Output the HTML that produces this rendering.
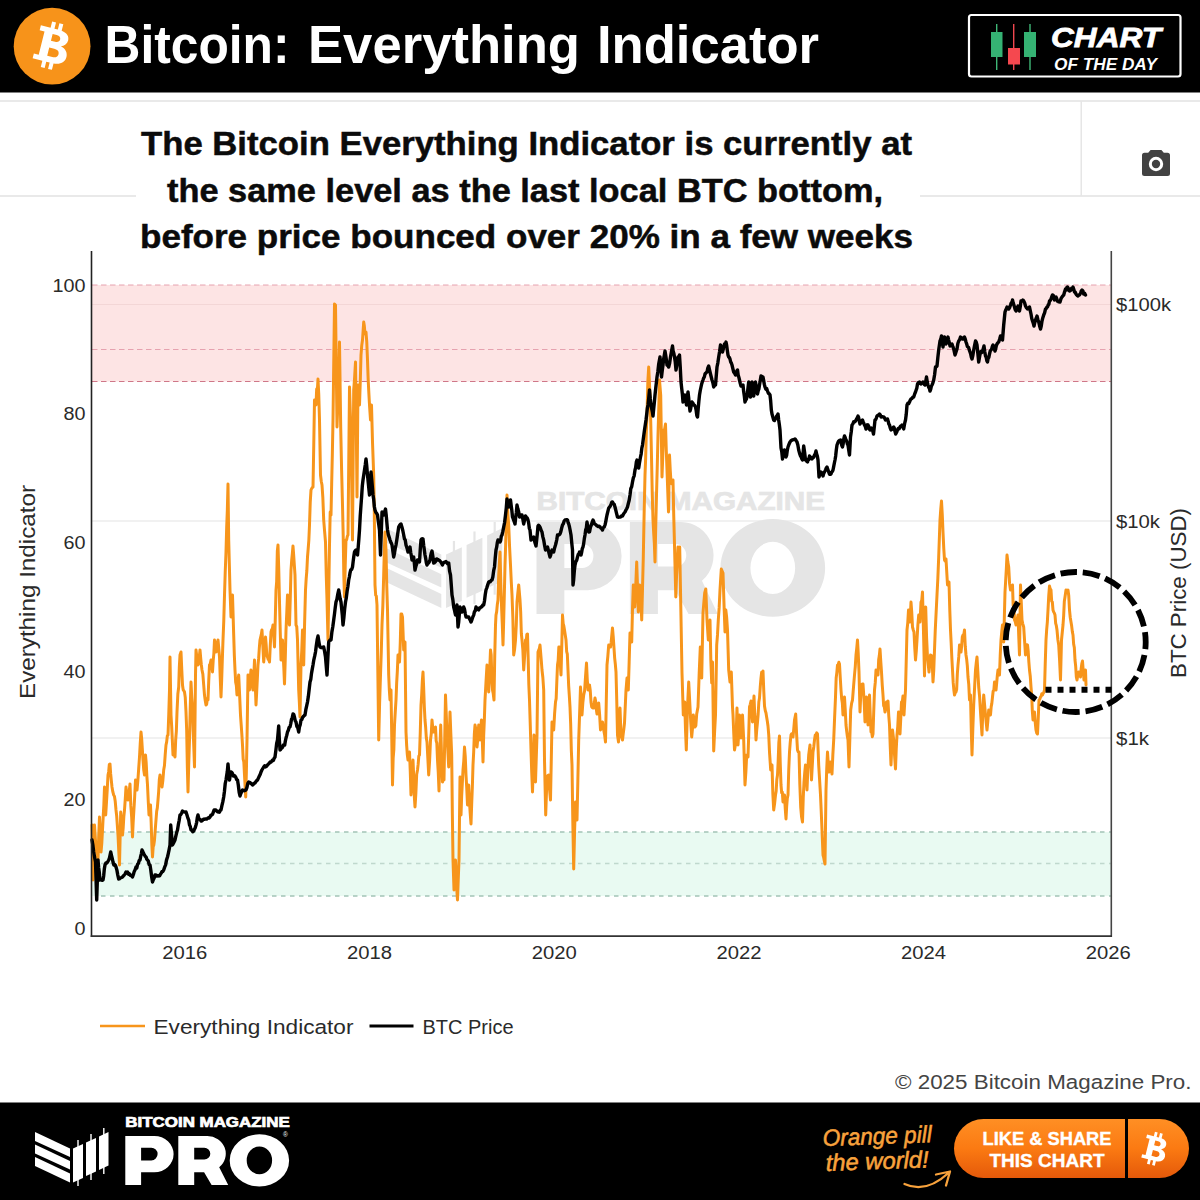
<!DOCTYPE html>
<html><head><meta charset="utf-8">
<style>
html,body{margin:0;padding:0;background:#fff;}
body{width:1200px;height:1200px;overflow:hidden;position:relative;font-family:"Liberation Sans",sans-serif;}
svg{position:absolute;left:0;top:0;}
text{font-family:"Liberation Sans",sans-serif;}
</style></head><body>
<svg width="1200" height="1200" viewBox="0 0 1200 1200">
<defs>
<linearGradient id="btn" x1="0" y1="0" x2="0" y2="1">
<stop offset="0" stop-color="#ff8f24"/><stop offset="0.5" stop-color="#fb7a12"/><stop offset="1" stop-color="#e4590a"/>
</linearGradient>
</defs>
<rect x="0" y="0" width="1200" height="1200" fill="#ffffff"/>

<!-- page divider lines -->
<rect x="0" y="100" width="1200" height="2" fill="#e9e9e9"/>
<rect x="0" y="195" width="1200" height="2" fill="#e9e9e9"/>
<rect x="1080.5" y="101" width="1.5" height="95" fill="#e6e6e6"/>
<rect x="136" y="108" width="784" height="150" fill="#ffffff"/>

<!-- camera icon -->
<g fill="#424242">
<path d="M1144.5,152.7 H1148.2 L1150.6,150 H1161.4 L1163.8,152.7 H1167.5 Q1170,152.7 1170,155.2 V173.5 Q1170,176 1167.5,176 H1144.5 Q1142,176 1142,173.5 V155.2 Q1142,152.7 1144.5,152.7 Z"/>
<circle cx="1156" cy="164" r="7.2" fill="#ffffff"/>
<circle cx="1156" cy="164" r="4.2"/>
</g>

<!-- chart zones -->
<rect x="92" y="285" width="1019" height="96.5" fill="#fde4e4"/>
<rect x="92" y="832" width="1019" height="64" fill="#e9faf2"/>
<!-- grid lines (right axis) -->
<g stroke="#e4e4e4" stroke-width="1.2">
<line x1="92" y1="304.5" x2="1111" y2="304.5" stroke="#f3d6d6"/>
<line x1="92" y1="521" x2="1111" y2="521"/>
<line x1="92" y1="738" x2="1111" y2="738"/>
</g>
<g stroke="#e39aa8" stroke-width="0.9" stroke-dasharray="5.5 3.5" fill="none">
<line x1="92" y1="285" x2="1111" y2="285"/>
<line x1="92" y1="349.5" x2="1111" y2="349.5"/>
<line x1="92" y1="381.5" x2="1111" y2="381.5" stroke="#c9697c"/>
</g>
<g stroke="#a3c4b6" stroke-width="1.5" stroke-dasharray="4.5 4.5" fill="none">
<line x1="101" y1="832" x2="1111" y2="832"/>
<line x1="101" y1="863.5" x2="1111" y2="863.5" stroke="#bfd8cd"/>
<line x1="101" y1="896" x2="1111" y2="896"/>
</g>

<!-- watermark -->
<g fill="#e5e5e5">
<g transform="translate(386,522) scale(1.58) translate(-35,-1128)">
<polygon points="35,1132 70,1148.5 70,1157 35,1141"/>
<polygon points="35,1144.5 70,1161 70,1169.5 35,1153.5"/>
<polygon points="35,1157 70,1173.5 70,1182.5 35,1166"/>
<polygon points="73,1148.5 83,1144 83,1178 73,1182.5"/>
<rect x="77.3" y="1140" width="1.4" height="46"/>
<polygon points="86,1142.5 96,1138 96,1171.5 86,1176"/>
<rect x="90.3" y="1134" width="1.4" height="46"/>
<polygon points="99,1136.5 108.5,1132 108.5,1165.5 99,1170"/>
<rect x="103.1" y="1128" width="1.4" height="46"/>
</g>
<text x="536.5" y="509.5" font-size="25" font-weight="700" stroke="#e5e5e5" stroke-width="0.7" textLength="288.5" lengthAdjust="spacingAndGlyphs">BITCOIN MAGAZINE</text>
<path transform="translate(536.5,522) scale(1.762,1.874)" d="M0,0 H29 A19.3,18.2 0 0 1 29,36.4 H15.8 V49.1 H0 Z M15.8,11.8 H26 A6.3,6.35 0 0 1 26,24.5 H15.8 Z M53,0 H82 A18.5,17.8 0 0 1 93.9,31.4 L102.9,49.1 H86.3 L78.8,36.4 H68.9 V49.1 H53 Z M68.9,11.8 H79 A6,5.95 0 0 1 79,23.7 H68.9 Z M104.4,24.5 A29.7,26.1 0 1 0 163.8,24.5 A29.7,26.1 0 1 0 104.4,24.5 Z M121.4,24.5 A12.7,13.9 0 1 1 146.8,24.5 A12.7,13.9 0 1 1 121.4,24.5 Z" fill-rule="evenodd"/>
</g>

<!-- data lines -->
<path d="M92,825 L93,880 L93.75,851.6 L94.5,825 L95.25,837.3 L96,847 L96.67,850.9 L97.33,855 L98,860 L98.75,835.2 L99.5,817 L100.25,833.8 L101,852 L101.75,843.8 L102.5,830 L103.17,817.2 L103.83,805 L104.5,787 L105.7,815 L106.47,802.5 L107.23,789.7 L108,775 L108.67,771.7 L109.33,764.5 L110,764 L110.67,773.9 L111.33,780.6 L112,787 L112.85,791.9 L113.7,795 L114.47,796.4 L115.23,801.3 L116,810 L116.67,815.9 L117.33,825.4 L118,835 L118.75,850.9 L119.5,865 L120.7,812 L121.6,823.4 L122.5,835 L123.17,828.1 L123.83,816.6 L124.5,810 L125.25,799.3 L126,787 L126.67,792.1 L127.33,794.3 L128,800 L128.67,798.4 L129.33,790.6 L130,784 L130.83,805.9 L131.67,817.1 L132.5,837 L133.17,822.2 L133.83,811.2 L134.5,800 L135.5,780 L136.25,784.8 L137,790 L137.83,781 L138.67,768.8 L139.5,757 L140.25,743.3 L141,732 L141.67,738.6 L142.33,749.2 L143,760 L143.75,770.1 L144.5,775 L145.5,755 L146.17,762.6 L146.83,775.7 L147.5,785 L148.25,801.3 L149,815 L149.75,807.2 L150.5,805 L151.17,822.5 L151.83,844.3 L152.5,857 L153.17,846.8 L153.83,844.9 L154.5,840 L155.25,829.7 L156,820 L156.67,811.4 L157.33,807.9 L158,800 L158.67,791.5 L159.33,779.4 L160,775 L160.67,780.6 L161.33,784.3 L162,787 L162.85,780.6 L163.7,770 L164.47,765.5 L165.23,754.3 L166,745 L166.67,741.9 L167.33,735.9 L168,735 L168.75,714.7 L169.5,690 L170,657 L171,715 L171.67,726.2 L172.33,740.1 L173,755 L173.67,753.9 L174.33,754.9 L175,757 L175.67,740.1 L176.33,731.5 L177,712 L177.85,694 L178.7,687 L179.35,666.5 L180,655 L181,652 L181.75,669.3 L182.5,685 L183.17,689.8 L183.83,690.7 L184.5,692 L185.25,697.4 L186,712 L186.67,729.8 L187.33,766.6 L188,792 L188.75,763.4 L189.5,740 L190.25,707.1 L191,682 L191.75,697.1 L192.5,707 L193.17,730.9 L193.83,747.6 L194.5,767 L195.5,675 L196,650 L196.67,655.5 L197.33,660.9 L198,665 L198.67,663.4 L199.33,656.3 L200,650 L200.67,657.9 L201.33,664.7 L202,670 L202.85,674.1 L203.7,685 L204.47,694.8 L205.23,700.6 L206,705 L206.67,704.2 L207.33,698.5 L208,700 L208.75,680.4 L209.5,665 L210.25,663.8 L211,660 L211.75,662.4 L212.5,672 L213.17,660.8 L213.83,653.8 L214.5,640 L215.25,643.4 L216,652 L216.67,651.2 L217.33,645.1 L218,640 L218.75,648.2 L219.5,657 L220.25,678.1 L221,697 L221.67,680.3 L222.33,659.4 L223,640 L223.75,621.5 L224.5,595 L225.25,571.2 L226,552 L226.67,527.9 L227.33,510.3 L228,484 L228.7,540 L229.35,565.1 L230,590 L231,617 L231.75,603.8 L232.5,595 L233.7,635 L234.35,655.6 L235,670 L235.67,682.3 L236.33,685.5 L237,695 L237.85,681.7 L238.7,675 L239.6,694.5 L240.5,715 L241.17,724.6 L241.83,734.1 L242.5,745 L243.17,759.2 L243.83,761.9 L244.5,775 L245.7,797 L246.35,772.9 L247,740 L248,675 L248.75,679.8 L249.5,690 L250.25,678.1 L251,670 L251.67,678.2 L252.33,686.1 L253,690 L253.75,677.6 L254.5,660 L255.25,683.7 L256,705 L256.67,692.2 L257.33,678.9 L258,665 L258.67,658.2 L259.33,647.9 L260,640 L260.67,637.2 L261.33,634.4 L262,630 L262.85,646 L263.7,662 L264.6,651.6 L265.5,637 L266.17,645 L266.83,655.2 L267.5,657 L268.17,659.2 L268.83,659.7 L269.5,662 L270.25,645.9 L271,632 L271.67,629.6 L272.33,628.9 L273,625 L273.75,635.1 L274.5,647 L275.25,619.9 L276,590 L276.67,581.5 L277.33,551 L278,545 L278.75,569.5 L279.5,602 L280.25,631.9 L281,660 L281.75,651 L282.5,640 L283.17,655.5 L283.83,667.8 L284.5,684 L285.25,659.3 L286,630 L286.75,613.4 L287.5,595 L288.17,603.4 L288.83,622.2 L289.5,625 L290.25,598.8 L291,570 L291.67,560.5 L292.33,553.7 L293,546 L293.67,555 L294.33,565.2 L295,575 L296,625 L296.75,626.6 L297.5,640 L298.7,690 L299.35,702.1 L300,717 L301,665 L301.75,650.8 L302.5,630 L303.7,665 L304.6,623.4 L305.5,590 L306.17,578.8 L306.83,571 L307.5,557 L308.17,549 L308.83,540.3 L309.5,525 L310.25,502 L311,490 L311.67,488.5 L312.33,487.5 L313,487 L313.75,445.7 L314.5,400 L315.25,404.2 L316,405 L316.67,389 L317.33,390.7 L318,379 L318.75,394.4 L319.5,420 L320.5,475 L321.25,481.3 L322,485 L322.85,497.7 L323.7,520 L324.6,531.4 L325.5,542 L326.25,575.2 L327,600 L328,640 L328.75,592 L329.5,545 L330.2,512 L331,515 L331.67,484 L332.33,454.5 L333,420 L333.75,362.5 L334.5,304 L335.5,305 L336.25,365.7 L337,427 L338,400 L338.75,376.4 L339.5,342 L340.7,427 L341.6,469.7 L342.5,505 L343.17,534.6 L343.83,576 L344.5,597 L345.25,564.5 L346,540 L346.67,539.8 L347.33,536.2 L348,535 L348.75,461.5 L349.5,387 L350.25,411 L351,430 L351.75,485.8 L352.5,540 L353.7,390 L354.6,377.8 L355.5,362 L356.25,424.1 L357,497 L358,385 L358.75,391.3 L359.5,405 L360.25,382.2 L361,355 L361.75,345.4 L362.5,340 L363.7,322 L364.35,326 L365,334 L366,332 L366.75,341.8 L367.5,360 L368.17,379.5 L368.83,392.6 L369.5,405 L370.5,420 L371.5,405 L372.5,442 L373.7,475 L374.3,512 L375,585 L375.67,595.2 L376.33,596.1 L377,605 L377.85,672.5 L378.7,740 L379.6,703.5 L380.5,675 L381.25,652.7 L382,625 L382.85,605.6 L383.7,575 L384.35,550.4 L385,532 L386,550 L386.75,585.5 L387.5,610 L388.7,675 L389.35,690.2 L390,700 L391,690 L391.75,736.9 L392.5,785 L393.17,758.1 L393.83,750 L394.5,725 L395.25,712.2 L396,700 L396.67,682.9 L397.33,671.4 L398,655 L398.75,659.2 L399.5,662 L400.25,643.3 L401,614 L401.75,614 L402.5,617 L403.7,650 L404.35,648 L405,642 L406,732 L406.67,745.6 L407.33,754.8 L408,760 L408.75,755.7 L409.5,752 L410.25,770.9 L411,795 L411.67,786.6 L412.33,772 L413,760 L413.67,776.1 L414.33,796.3 L415,807 L415.83,793.8 L416.67,774.6 L417.5,770 L418.17,764.2 L418.83,756 L419.5,755 L420.25,732.9 L421,705 L421.67,695 L422.33,681.1 L423,672 L423.67,688 L424.33,706.9 L425,720 L425.67,727.5 L426.33,738 L427,742 L427.85,758.3 L428.7,775 L429.6,760.9 L430.5,740 L431.25,733.6 L432,720 L432.85,729.2 L433.7,732 L434.6,728.4 L435.5,727 L436.17,740.8 L436.83,743.1 L437.5,760 L438.25,772.2 L439,791 L439.85,751.1 L440.7,725 L441.6,757.3 L442.5,782 L443.25,779.2 L444,780 L444.75,737.5 L445.5,695 L446.25,714.3 L447,735 L447.85,750.9 L448.7,767 L449.35,737.4 L450,712 L450.85,734.3 L451.7,755 L452.35,813.8 L453,860 L454,890 L454.75,875.1 L455.5,860 L456.17,875.2 L456.83,890.2 L457.5,900 L458.25,879.3 L459,860 L460,777 L461,815 L461.67,795.6 L462.33,783 L463,770 L463.75,761.3 L464.5,747 L465.25,756.3 L466,775 L466.75,788.2 L467.5,805 L468.7,785 L469.47,801.5 L470.23,813.7 L471,824 L471.67,804.4 L472.33,787.5 L473,765 L473.67,752.3 L474.33,734.2 L475,725 L475.67,728.4 L476.33,738.1 L477,747 L477.85,738.3 L478.7,725 L479.35,731.3 L480,740 L480.75,727.8 L481.5,720 L482.25,738.3 L483,762 L483.67,735.9 L484.33,720.3 L485,700 L486,682 L487,665 L487.85,675.2 L488.7,692 L489.6,672.3 L490.5,650 L491.17,655 L491.83,677.8 L492.5,690 L493.25,693.8 L494,700 L494.75,655.7 L495.5,625 L496,615 L496.67,611.6 L497.33,604.4 L498,600 L498.67,576.2 L499.33,564.9 L500,552 L501,590 L501.67,609.4 L502.33,625.1 L503,645 L503.67,621.1 L504.33,594.3 L505,565 L505.67,544 L506.33,519.5 L507,495 L507.85,514 L508.7,525 L509.6,547.3 L510.5,565 L511.25,581.3 L512,595 L512.85,617.7 L513.7,655 L514.6,649.4 L515.5,640 L516.25,625.5 L517,602 L517.85,592.8 L518.7,585 L520,600 L520.67,611.7 L521.33,633.5 L522,640 L522.85,649.8 L523.7,670 L524.6,656.4 L525.5,640 L526.17,642 L526.83,634.5 L527.5,634 L528.17,658.4 L528.83,684.6 L529.5,700 L530.25,724.6 L531,750 L531.75,773 L532.5,792 L533.25,766.7 L534,735 L534.75,755.3 L535.5,782 L536.25,758.2 L537,735 L538,652 L538.67,650.2 L539.33,648.7 L540,645 L540.67,653.2 L541.33,661.1 L542,670 L542.85,677.5 L543.7,690 L544.5,760 L545.7,815 L547,777 L547.85,775.5 L548.7,775 L549.6,789.9 L550.5,800 L551.25,761.4 L552,722 L552.85,724.5 L553.7,730 L554.6,713.6 L555.5,702 L556.17,698.6 L556.83,681.2 L557.5,665 L558.17,660.5 L558.83,647 L559.5,647 L560.25,662.8 L561,675 L561.75,646.7 L562.5,615 L563.17,623.6 L563.83,625.9 L564.5,630 L565.25,634.9 L566,640 L566.67,651.6 L567.33,654.2 L568,670 L568.67,685.8 L569.33,695.8 L570,707 L570.67,723.9 L571.33,750.3 L572,765 L572.85,823.4 L573.7,869 L574.6,830.6 L575.5,802 L576.25,809.5 L577,820 L577.85,781 L578.7,740 L579.6,714.1 L580.5,687 L581.25,699.9 L582,715 L582.85,702.6 L583.7,695 L584.6,690.9 L585.5,677 L586.5,663 L587.25,679.4 L588,690 L588.75,685.6 L589.5,685 L590.25,690.5 L591,702 L591.67,706.8 L592.33,707.6 L593,708 L593.67,708.1 L594.33,702.8 L595,698 L595.67,701.4 L596.33,709.2 L597,714 L597.85,704.3 L598.7,703 L599.6,714.4 L600.5,730 L601.17,727.2 L601.83,725.6 L602.5,722 L603.7,730 L604.6,734.6 L605.5,742 L606.25,703.1 L607,665 L607.85,656.1 L608.7,645 L609.6,646.5 L610.5,647 L611.17,642.2 L611.83,634.8 L612.5,628 L613.25,637.2 L614,648 L614.67,658.1 L615.33,664.1 L616,672 L616.75,700.6 L617.5,735 L618.5,742 L619.25,723 L620,708 L621,735 L621.75,737.5 L622.5,740 L623.17,734.1 L623.83,729 L624.5,723 L625.25,706.5 L626,690 L627,678 L628.3,690 L629.15,662.1 L630,633 L630.85,637.3 L631.7,642 L632.5,609.1 L633.3,585 L634,597.1 L634.7,607 L635.37,595.7 L636.03,578.5 L636.7,562 L637.5,586.3 L638.3,612 L639,599.8 L639.7,585 L640.37,593.5 L641.03,602.2 L641.7,620 L642.5,588.7 L643.3,557 L644.15,512.7 L645,475 L645.67,457.6 L646.33,431.2 L647,415 L647.85,381.7 L648.7,367 L650,395 L650.75,422.3 L651.5,457 L652.25,494.1 L653,520 L653.67,532.7 L654.33,543.2 L655,562 L655.75,525.8 L656.5,495 L657.25,466.8 L658,435 L658.75,409.2 L659.5,380 L660.7,395 L662,477 L662.85,454.1 L663.7,430 L664.6,429.4 L665.5,424 L666.25,449.5 L667,470 L667.75,490.9 L668.5,512 L669.5,455 L670.25,470.2 L671,482 L671.67,483.7 L672.33,482.1 L673,480 L673.75,516.1 L674.5,545 L675.8,597 L676.53,576.5 L677.27,563.1 L678,547 L678.85,548 L679.7,547 L680.8,607 L682,673 L683.3,715 L684,707.9 L684.7,702 L685.5,729.8 L686.3,750 L687.5,707 L688.7,682 L690,707 L690.85,723.8 L691.7,737 L692.5,728.3 L693.3,715 L694.15,720.6 L695,727 L695.85,725.7 L696.7,714 L698,707 L699.2,673 L700.3,647 L701,666.3 L701.7,678 L703,613 L703.85,602.5 L704.7,593 L705.8,589 L707,620 L708.3,640 L709.15,630.2 L710,620 L710.85,660.6 L711.7,683 L712.5,662 L713.7,751 L714.6,731.9 L715.5,715 L716.7,645 L717.5,634.9 L718.3,620 L719.15,607.9 L720,590 L721.3,569 L722.15,571 L723,573 L724.2,610 L725,632 L725.8,610 L726.65,617.2 L727.5,630 L728.7,670 L730,682 L731.3,672 L732.5,707 L733,715 L733.75,733.1 L734.5,750 L735.25,745.7 L736,740 L737,708 L738,745 L738.75,733.4 L739.5,715 L740.25,728.5 L741,738 L741.75,726.6 L742.5,715 L743.7,740 L745,785 L745.85,772.5 L746.7,755 L748,757 L748.75,733.9 L749.5,707 L750.25,704.3 L751,701 L751.75,711.6 L752.5,722 L753.25,708.3 L754,696 L754.67,713.1 L755.33,721.6 L756,740 L756.75,729.5 L757.5,722 L758.17,714 L758.83,702.1 L759.5,698 L760.25,686.9 L761,678 L761.67,672.2 L762.33,672.2 L763,671 L763.75,690.3 L764.5,706 L765.25,710.5 L766,713 L766.67,717.2 L767.33,721.2 L768,726 L768.75,735.1 L769.5,752 L770.7,770 L772,765 L772.85,793.9 L773.7,810 L774.6,803.6 L775.5,795 L776.17,791 L776.83,779.5 L777.5,775 L778.17,761.4 L778.83,742.7 L779.5,736 L780.25,763.2 L781,785 L781.67,792.8 L782.33,792.1 L783,802 L783.75,798.4 L784.5,795 L785.25,808.7 L786,819 L786.67,806.3 L787.33,798.2 L788,795 L788.75,769.8 L789.5,752 L790.25,742.1 L791,735 L791.67,733.7 L792.33,736.4 L793,737 L793.75,729.1 L794.5,720 L795.7,714 L796.6,734.1 L797.5,750 L798.25,752 L799,752 L799.85,784.8 L800.7,807 L801.6,817 L802.5,822 L803.25,797.4 L804,782 L804.75,772.4 L805.5,765 L806.25,774.6 L807,790 L807.85,769 L808.7,755 L810,745 L810.75,762.2 L811.5,780 L812.25,766 L813,752 L813.75,747 L814.5,740 L815.25,735 L816,735 L816.75,732.8 L817.5,734 L818.7,765 L819.6,779.9 L820.5,795 L821.25,811.9 L822,830 L823,855 L823.67,857.4 L824.33,860.9 L825,864 L826,790 L826.75,768.4 L827.5,752 L828.25,763.7 L829,772 L829.75,767.7 L830.5,762 L831.25,767.8 L832,774 L832.85,754.9 L833.7,740 L834.6,717.9 L835.5,697 L836.17,678 L836.83,672.6 L837.5,665 L838.17,664.7 L838.83,662.3 L839.5,664 L840.25,677.5 L841,690 L841.67,698.7 L842.33,703 L843,715 L843.75,705.4 L844.5,697 L845.25,710.1 L846,725 L846.67,731 L847.33,736.3 L848,740 L849,767 L849.85,738.4 L850.7,710 L851.6,703.4 L852.5,700 L853.17,691.3 L853.83,683.2 L854.5,675 L855.25,666.8 L856,655 L856.75,648.1 L857.5,640 L858.25,653.8 L859,672 L860,712 L860.75,694.7 L861.5,685 L862.25,684 L863,684 L863.67,694.1 L864.33,705.5 L865,722 L865.75,709.2 L866.5,697 L867.25,709.6 L868,725 L868.75,710.3 L869.5,695 L870.25,715.3 L871,732 L871.67,732.1 L872.33,736.7 L873,734 L873.75,710.9 L874.5,690 L875.25,682.7 L876,670 L876.67,671.9 L877.33,675.1 L878,675 L878.67,659.8 L879.33,655.6 L880,649 L880.75,661.1 L881.5,672 L882.25,685.1 L883,695 L883.67,705.9 L884.33,707.1 L885,712 L885.75,709.4 L886.5,702 L887.25,702.6 L888,701 L888.75,715.5 L889.5,725 L890.25,746.8 L891,765 L891.75,747 L892.5,730 L893.7,740 L894.6,756 L895.5,769 L896.25,748.6 L897,735 L897.75,726.6 L898.5,712 L899.25,720.4 L900,734 L900.75,718.8 L901.5,702 L902.25,702.5 L903,696 L904,715 L904.75,701.9 L905.5,690 L906.25,660.1 L907,630 L907.75,622.8 L908.5,610 L909.25,616.1 L910,622 L911,602 L911.75,612.3 L912.5,627 L913.25,629.9 L914,632 L914.75,647.7 L915.5,660 L916.25,651.7 L917,640 L917.85,625.4 L918.7,615 L920,622 L921,602 L921.75,600.3 L922.5,592 L923.7,640 L924.5,676 L925.7,607 L926.6,637.9 L927.5,657 L928.25,664.5 L929,672 L929.75,664.1 L930.5,655 L931.25,655.4 L932,657 L933,682 L933.75,670.4 L934.5,650 L935.25,630.2 L936,615 L937,595 L937.85,578.3 L938.7,557 L940,520 L940.75,509.4 L941.5,501 L942.25,514.4 L943,532 L943.75,548.1 L944.5,560 L945.25,561.3 L946,559 L946.75,572 L947.5,585 L948.25,582.5 L949,582 L949.75,608.9 L950.5,630 L951.17,643.2 L951.83,657.8 L952.5,670 L953.17,682.4 L953.83,689.7 L954.5,695 L955.25,692.7 L956,692 L956.67,689.4 L957.33,674 L958,665 L958.75,656.9 L959.5,645 L960.25,647.4 L961,652 L961.67,646.2 L962.33,636.7 L963,635 L963.75,635.3 L964.5,630 L965.25,646.2 L966,655 L966.67,659.3 L967.33,665.9 L968,677 L968.75,684.3 L969.5,700 L970.5,695 L971.25,729.1 L972,755 L972.85,728.4 L973.7,705 L974.6,687.3 L975.5,670 L976.25,662.9 L977,657 L977.85,671.6 L978.7,687 L979.6,696.6 L980.5,712 L981.25,723.6 L982,735 L982.85,709.9 L983.7,695 L984.6,704.8 L985.5,715 L986.25,723.2 L987,730 L987.85,721.1 L988.7,710 L989.6,712.1 L990.5,715 L991.17,706.9 L991.83,703.4 L992.5,697 L993.17,691 L993.83,690.4 L994.5,682 L995.25,687.4 L996,690 L996.67,683.1 L997.33,675.5 L998,670 L998.75,671.4 L999.5,675 L1000.25,654.5 L1001,640 L1001.75,631.7 L1002.5,625 L1003.7,642 L1005,592 L1005.67,580.7 L1006.33,569.1 L1007,555 L1007.85,562.1 L1008.7,567 L1009.6,583.9 L1010.5,590 L1011.17,587.2 L1011.83,586.7 L1012.5,585 L1013.17,605.7 L1013.83,602.3 L1014.5,620 L1015.25,621.7 L1016,625 L1016.67,622 L1017.33,618.6 L1018,615 L1018.75,636.4 L1019.5,655 L1020.5,585 L1021.25,601.7 L1022,620 L1022.85,624.1 L1023.7,627 L1024.6,641.2 L1025.5,655 L1026.17,653.1 L1026.83,644.8 L1027.5,645 L1028.17,650.9 L1028.83,661.7 L1029.5,670 L1030.25,676.2 L1031,687 L1031.67,694.7 L1032.33,711 L1033,720 L1033.75,714.9 L1034.5,712 L1035.25,722.5 L1036,730 L1036.75,733.1 L1037.5,734 L1038.25,718 L1039,700 L1039.75,699.3 L1040.5,697 L1041.17,696.2 L1041.83,693.7 L1042.5,695 L1043.17,693.3 L1043.83,692.4 L1044.5,690 L1045.25,663.1 L1046,640 L1046.67,629.7 L1047.33,622.2 L1048,610 L1048.75,595.7 L1049.5,586 L1050.25,589 L1051,590 L1051.67,601.2 L1052.33,602 L1053,610 L1053.67,611.9 L1054.33,613.1 L1055,615 L1055.67,623.3 L1056.33,625.7 L1057,630 L1057.85,639.4 L1058.7,645 L1059.6,660.3 L1060.5,680 L1061.5,640 L1062.25,632.5 L1063,625 L1063.67,615.6 L1064.33,601.3 L1065,597 L1066,590 L1066.67,591.9 L1067.33,591.2 L1068,590 L1068.75,595.8 L1069.5,610 L1070.25,617.5 L1071,622 L1071.67,626.1 L1072.33,631.6 L1073,635 L1073.67,644.3 L1074.33,647.6 L1075,660 L1075.67,666.2 L1076.33,676.9 L1077,680 L1077.85,675 L1078.7,672 L1079.6,672.9 L1080.5,677 L1081.17,668.7 L1081.83,663.6 L1082.5,661 L1083.25,671.3 L1084,680 L1084.75,678.2 L1085.5,670 L1086,685" fill="none" stroke="#f7951b" stroke-width="3" stroke-linejoin="round" stroke-linecap="round"/>
<path d="M92,840 L92.85,845 L93.7,852 L94.6,857.3 L95.5,862 L96.7,900 L98,860 L98.67,867.7 L99.33,872.8 L100,880 L100.75,879.3 L101.5,880 L102.25,880.3 L103,880 L103.67,876 L104.33,868.9 L105,865 L105.92,862.9 L106.85,863 L107.78,861.6 L108.7,860 L109.37,858.4 L110.03,855.4 L110.7,852 L111.47,855.3 L112.23,858.5 L113,862 L113.75,864.9 L114.5,864.3 L115.25,865.2 L116,867 L116.9,870.1 L117.8,875.1 L118.7,879 L119.65,878.6 L120.6,877.8 L121.55,877.5 L122.5,877 L123.38,875.9 L124.25,875 L125.12,874 L126,872 L126.8,872.7 L127.6,872.1 L128.4,874.2 L129.2,873.5 L130,875 L130.83,875.6 L131.67,875.5 L132.5,877 L133.38,874.5 L134.25,871.4 L135.12,869.7 L136,867 L136.8,867.9 L137.6,864.2 L138.4,863.4 L139.2,860.5 L140,860 L140.67,856.4 L141.33,853.8 L142,850 L142.83,851.6 L143.67,853.6 L144.5,855 L145.25,856.3 L146,856.8 L146.75,859.1 L147.5,860 L148.33,861.1 L149.17,864.6 L150,865 L150.83,870.2 L151.67,877 L152.5,882 L153.33,879.7 L154.17,878 L155,875 L155.93,874.9 L156.85,876.1 L157.77,875.7 L158.7,876 L159.53,875.9 L160.37,874.4 L161.2,873.1 L162.03,871.5 L162.87,871.5 L163.7,870 L164.65,867.1 L165.6,864.9 L166.55,859.9 L167.5,857 L168.33,853.4 L169.17,849.4 L170,845 L170.7,825 L171.6,835.3 L172.5,845 L173.33,843.5 L174.17,841.8 L175,840 L175.83,836.2 L176.67,832.6 L177.5,830 L178.33,824.7 L179.17,820.5 L180,815 L180.83,814.6 L181.67,812.9 L182.5,811 L183.38,811.8 L184.25,811.9 L185.12,812.1 L186,812 L186.9,814.8 L187.8,817.9 L188.7,820 L189.47,824.7 L190.23,826.4 L191,830 L191.9,829.9 L192.8,831.8 L193.7,831 L194.47,829.2 L195.23,827.7 L196,825 L196.67,822.3 L197.33,817.5 L198,815 L198.75,818.1 L199.5,819.2 L200.25,819.6 L201,821 L201.8,821 L202.6,820.3 L203.4,819.3 L204.2,819.3 L205,819 L205.83,818.9 L206.67,819 L207.5,818.4 L208.33,817.7 L209.17,818.1 L210,817 L210.83,815.3 L211.67,815.2 L212.5,814.3 L213.33,812.1 L214.17,809.9 L215,810 L215.93,810 L216.85,811.1 L217.77,811.8 L218.7,812 L219.47,812.2 L220.23,810.1 L221,810 L221.9,805.7 L222.8,801.9 L223.7,797 L224.47,791.2 L225.23,783.5 L226,780 L226.67,775.4 L227.33,771.4 L228,764 L228.75,772.9 L229.5,780 L230.25,775.3 L231,772 L231.8,772.5 L232.6,773.7 L233.4,776 L234.2,775.6 L235,776 L235.83,777.4 L236.67,779.6 L237.5,780 L238.33,785.3 L239.17,792.3 L240,796 L240.83,793.5 L241.67,791.7 L242.5,790 L243.38,790.4 L244.25,790.8 L245.12,790.4 L246,790 L246.9,787.6 L247.8,783.4 L248.7,782 L249.65,782.3 L250.6,783.1 L251.55,783.9 L252.5,785 L253.33,784.5 L254.17,783.1 L255,783 L255.83,781.7 L256.67,780.6 L257.5,780 L258.38,778.1 L259.25,776.3 L260.12,774.6 L261,772 L261.9,770 L262.8,768.5 L263.7,767 L264.65,765.7 L265.6,766.9 L266.55,766.3 L267.5,765 L268.38,764.1 L269.25,763.2 L270.12,762 L271,762 L271.8,761.1 L272.6,760.1 L273.4,760.4 L274.2,758.2 L275,757 L275.83,750.6 L276.67,743.4 L277.5,740 L278.7,726 L279.35,739.5 L280,750 L280.67,749.4 L281.33,747.7 L282,748 L282.67,747.1 L283.33,745 L284,745 L284.67,745.1 L285.33,741.1 L286,738 L286.75,735.4 L287.5,732 L288.33,730.2 L289.17,727.3 L290,727 L290.75,723.6 L291.5,719.2 L292.25,717.7 L293,714 L293.75,714.5 L294.5,717.3 L295.25,720.9 L296,722 L296.9,726.6 L297.8,727.8 L298.7,732 L299.47,726.8 L300.23,724.7 L301,720 L301.8,719.6 L302.6,717.4 L303.4,716.5 L304.2,715.5 L305,715 L305.83,709.7 L306.67,705.8 L307.5,702 L308.33,696.6 L309.17,689.3 L310,682 L310.75,679.6 L311.5,673.4 L312.25,669.1 L313,665 L313.83,659.8 L314.67,656.2 L315.5,652 L316.33,645.5 L317.17,639.7 L318,636 L318.67,640.2 L319.33,644.5 L320,647 L320.93,647.5 L321.85,647.7 L322.77,647.1 L323.7,647 L324.6,651.5 L325.5,657 L326.25,666.1 L327,675 L327.85,658 L328.7,642 L329.47,640.7 L330.23,639.7 L331,640 L331.9,631.9 L332.8,626.7 L333.7,620 L334.47,614.1 L335.23,607.6 L336,602 L336.9,599.2 L337.8,594.1 L338.7,590 L339.47,594.5 L340.23,599 L341,602 L341.67,608.8 L342.33,615.3 L343,625 L343.83,618.1 L344.67,608.9 L345.5,602 L346.3,597.9 L347.1,591.3 L347.9,586.5 L348.7,580 L349.35,577 L350,573 L350.83,569.6 L351.67,569.5 L352.5,567 L353.17,561.4 L353.83,556.3 L354.5,552 L355.25,550.7 L356,550 L356.75,553 L357.5,555 L358.17,547.6 L358.83,539.4 L359.5,530 L360.25,515.7 L361,505 L361.67,496 L362.33,485.7 L363,480 L363.75,474.9 L364.5,470 L365.25,465 L366,459 L366.67,465.2 L367.33,473.2 L368,480 L368.75,487.7 L369.5,495 L370.25,484.6 L371,472 L371.67,478.8 L372.33,486.5 L373,495 L373.67,499.3 L374.33,506.5 L375,510 L375.83,512.4 L376.67,513.3 L377.5,515 L378.17,520.2 L378.83,525.1 L379.5,530 L380.5,555 L381.25,533.8 L382,512 L382.85,513.4 L383.7,515 L384.6,511.8 L385.5,509 L386.17,514.7 L386.83,522.4 L387.5,530 L388.33,534.6 L389.17,537.1 L390,540 L390.67,541.7 L391.33,543.2 L392,545 L392.85,551.1 L393.7,557 L394.47,553.3 L395.23,548.5 L396,545 L396.9,539.2 L397.8,533.2 L398.7,527 L399.47,525.5 L400.23,524.5 L401,524 L401.9,526.9 L402.8,530.5 L403.7,535 L404.47,539 L405.23,539.9 L406,545 L406.67,547.1 L407.33,549.2 L408,552 L408.67,549.9 L409.33,548.7 L410,547 L410.67,552.3 L411.33,555.7 L412,560 L412.85,558.4 L413.7,557 L414.35,563 L415,570 L415.83,566.6 L416.67,564 L417.5,560 L418.17,560.4 L418.83,560.7 L419.5,562 L420.25,549.7 L421,540 L421.67,539 L422.33,538.6 L423,539 L423.67,545.3 L424.33,550 L425,555 L425.67,558.2 L426.33,562.8 L427,565 L427.75,563.3 L428.5,563 L429.25,561.8 L430,560 L430.67,555.9 L431.33,552.8 L432,551 L432.85,556.2 L433.7,563 L434.52,562.6 L435.35,561.8 L436.18,559.2 L437,559 L437.75,560.1 L438.5,559.8 L439.25,560.3 L440,561 L440.83,562 L441.67,563.5 L442.5,565 L443.33,562.9 L444.17,562.4 L445,562 L445.93,561.6 L446.85,562.8 L447.77,563.9 L448.7,563 L449.6,571.2 L450.5,575 L451.25,584.7 L452,595 L452.85,599.6 L453.7,607 L454.6,610.7 L455.5,615 L456.25,609.3 L457,605 L458,627 L458.67,622.3 L459.33,614.2 L460,607 L460.67,608.2 L461.33,610.9 L462,612 L462.85,609.8 L463.7,607 L464.47,609.1 L465.23,613.3 L466,617 L466.9,616.9 L467.8,617 L468.7,617 L469.47,618.8 L470.23,620.1 L471,622 L471.9,619.8 L472.8,616.9 L473.7,615 L474.47,611.7 L475.23,610.8 L476,607 L476.9,608.2 L477.8,609.3 L478.7,610 L479.47,608 L480.23,607.9 L481,607 L481.9,606.8 L482.8,604.9 L483.7,605 L484.47,601 L485.23,594.7 L486,590 L486.9,587.6 L487.8,584.6 L488.7,582 L489.52,581.6 L490.35,581.7 L491.18,580.3 L492,580 L492.83,577 L493.67,570.7 L494.5,567 L495.25,557.6 L496,550 L496.67,547.2 L497.33,542.5 L498,540 L498.67,540.4 L499.33,541.9 L500,542 L500.67,540.5 L501.33,536.1 L502,535 L502.85,531.4 L503.7,527 L504.6,522.5 L505.5,515 L506.25,508.1 L507,499 L507.85,502.8 L508.7,507 L509.6,503.1 L510.5,500 L511.17,505.4 L511.83,510.3 L512.5,517 L513.33,519.1 L514.17,521.5 L515,524 L515.67,517.5 L516.33,512.5 L517,505 L517.83,508.8 L518.67,511.8 L519.5,517 L520.33,516.9 L521.17,515 L522,515 L522.85,519.2 L523.7,524 L524.6,519.9 L525.5,516 L526.33,517.1 L527.17,518 L528,520 L528.67,523.1 L529.33,528.3 L530,530 L531,540 L531.9,538.6 L532.8,537.9 L533.7,537 L534.47,540.8 L535.23,543.6 L536,546 L536.67,540.1 L537.33,533.5 L538,526 L538.67,525.2 L539.33,526.2 L540,527 L540.67,528.8 L541.33,530.7 L542,532 L542.85,536.9 L543.7,540 L544.6,545.4 L545.5,550 L546.17,548.9 L546.83,548 L547.5,547 L548.33,550.2 L549.17,553.9 L550,557 L550.67,555.1 L551.33,552.1 L552,550 L552.85,550.5 L553.7,552 L554.6,547.9 L555.5,545 L556.17,542.5 L556.83,539.3 L557.5,535 L558.33,535.2 L559.17,534.8 L560,534 L560.83,531.6 L561.67,528 L562.5,525 L563.33,523.8 L564.17,521 L565,520 L565.83,519.9 L566.67,519.6 L567.5,520 L568.17,522.8 L568.83,524.3 L569.5,527 L570.25,530.9 L571,535 L571.75,542.9 L572.5,550 L573,585 L573.67,579.7 L574.33,570.9 L575,565 L575.83,561.7 L576.67,560.3 L577.5,557 L578.17,554.6 L578.83,554 L579.5,552 L580.25,553.2 L581,555 L581.67,552.3 L582.33,548.4 L583,547 L583.67,543.6 L584.33,538.6 L585,535 L585.67,529.9 L586.33,528.1 L587,522 L587.85,527.5 L588.7,532 L589.6,531.8 L590.5,527 L591.33,525 L592.17,522.1 L593,520 L593.67,521.4 L594.33,523.7 L595,524 L595.83,524.7 L596.67,525.6 L597.5,526 L598.33,526.6 L599.17,526.2 L600,527 L600.83,528.1 L601.67,528.7 L602.5,530 L603.33,527.5 L604.17,527.2 L605,525 L605.67,522.2 L606.33,518.4 L607,515 L607.83,511.7 L608.67,508.2 L609.5,507 L610.25,506.1 L611,504.4 L611.75,502.2 L612.5,502 L613.33,503.6 L614.17,504.3 L615,507 L615.83,510.3 L616.67,513.8 L617.5,517 L618.33,517.2 L619.17,517.1 L620,517 L620.83,516.8 L621.67,515.7 L622.5,516 L623.33,514.4 L624.17,513 L625,512 L625.83,510.2 L626.67,508.8 L627.5,507 L628.33,503.5 L629.17,500.3 L630,495 L630.83,488.5 L631.67,486.7 L632.5,482 L633.33,477.8 L634.17,475.8 L635,470 L635.67,467.4 L636.33,462.1 L637,460 L637.85,464.3 L638.7,468 L639.6,462.1 L640.5,457 L641.17,453.8 L641.83,448.1 L642.5,445 L643.17,439.9 L643.83,434.9 L644.5,430 L645.25,424.9 L646,420 L646.67,414.5 L647.33,408.4 L648,405 L648.75,397.9 L649.5,390 L650.25,398.4 L651,405 L651.67,408.6 L652.33,411.5 L653,416 L653.67,409.2 L654.33,402.6 L655,395 L655.67,388.8 L656.33,383 L657,377 L657.85,371.7 L658.7,364 L660,357 L660.75,365.9 L661.5,377 L662.25,370.5 L663,365 L663.67,358.7 L664.33,355.1 L665,351 L665.67,355 L666.33,359.5 L667,365 L667.85,365.6 L668.7,367 L669.6,363.4 L670.5,357 L671.17,353.2 L671.83,349.6 L672.5,346 L673.17,351.4 L673.83,353.3 L674.5,357 L675.25,362.1 L676,370 L676.67,366 L677.33,360.6 L678,357 L678.75,357 L679.5,355 L680.25,367.1 L681,382 L681.67,388.1 L682.33,393.7 L683,402 L683.67,399.7 L684.33,396.6 L685,395 L685.75,399.9 L686.5,405 L687.25,398.2 L688,392 L688.67,397.7 L689.33,405.6 L690,411 L690.67,408.7 L691.33,405 L692,402 L692.85,403 L693.7,405 L694.6,405.4 L695.5,407 L696.17,410.5 L696.83,415.5 L697.5,417 L698.17,409.2 L698.83,401.5 L699.5,395 L700.25,390.5 L701,387 L701.67,383.9 L702.33,381.7 L703,380 L703.67,377.9 L704.33,377 L705,374 L705.67,373.3 L706.33,372.4 L707,372 L707.85,367.9 L708.7,366 L709.6,370.2 L710.5,374 L711.25,377 L712,380 L712.85,382.6 L713.7,387 L714.6,385.4 L715.5,385 L716.25,376 L717,367 L717.85,362.8 L718.7,357 L719.6,351.5 L720.5,345 L721.17,347.5 L721.83,349.4 L722.5,352 L723.17,349.6 L723.83,346.7 L724.5,344 L725.25,344.3 L726,342 L726.67,345.4 L727.33,350.4 L728,355 L728.67,357.1 L729.33,357.5 L730,359 L730.67,362 L731.33,363 L732,365 L732.85,368.6 L733.7,372 L734.6,373.3 L735.5,375 L736.17,372.4 L736.83,371 L737.5,370 L738.17,375 L738.83,377.2 L739.5,380 L740.25,383.4 L741,386 L741.67,386.2 L742.33,385.7 L743,385 L743.67,391.6 L744.33,396.1 L745,402 L745.67,400.2 L746.33,399.3 L747,397 L747.85,389.2 L748.7,382 L749.6,388.3 L750.5,397 L751.25,389.3 L752,382 L752.85,388.5 L753.7,396 L754.6,389.5 L755.5,382 L756.17,385.4 L756.83,389.1 L757.5,394 L758.17,390.8 L758.83,389.2 L759.5,385 L760.25,380.5 L761,376 L761.67,376.4 L762.33,376.7 L763,377 L763.67,380.6 L764.33,384.4 L765,387 L765.83,389.2 L766.67,388.6 L767.5,391 L768.33,393.2 L769.17,393.7 L770,395 L770.67,401 L771.33,410 L772,414 L772.85,416.9 L773.7,420 L774.47,420.5 L775.23,419.2 L776,418 L776.67,416 L777.33,415.6 L778,414 L778.67,420 L779.33,424.6 L780,430 L781,448 L781.75,451.7 L782.5,459 L783.17,455.7 L783.83,452.9 L784.5,450 L785.25,452.7 L786,457 L786.67,455.1 L787.33,450.1 L788,447 L788.67,445.1 L789.33,443.5 L790,442 L790.83,440.9 L791.67,440.2 L792.5,440 L793.33,439.7 L794.17,439.5 L795,439 L795.67,439.7 L796.33,440.9 L797,442 L797.85,445 L798.7,450 L799.6,453.4 L800.5,456 L801.17,456.9 L801.83,458.8 L802.5,460 L803.7,446 L804.6,452.2 L805.5,460 L806.17,460.4 L806.83,461.5 L807.5,462 L808.17,459.2 L808.83,459.7 L809.5,456 L810.33,457 L811.17,458 L812,459 L812.83,457.2 L813.67,457.3 L814.5,455 L815.25,453.9 L816,451 L816.67,454.2 L817.33,456 L818,460 L819,477 L819.67,475 L820.33,474.1 L821,472 L821.67,473 L822.33,473.9 L823,476 L823.67,473.6 L824.33,472.2 L825,471 L825.67,469.7 L826.33,467.9 L827,467 L827.85,469.5 L828.7,472 L829.47,474.3 L830.23,474.4 L831,474 L831.67,472 L832.33,471.5 L833,470 L833.67,466.7 L834.33,463.2 L835,460 L835.67,455.9 L836.33,449.7 L837,445 L837.85,442.8 L838.7,441 L839.6,440.3 L840.5,440 L841.17,442.3 L841.83,445.6 L842.5,447 L843.17,443.9 L843.83,438.6 L844.5,436 L845.25,437.7 L846,440 L846.67,441.1 L847.33,443.9 L848,445 L848.75,450.2 L849.5,455 L850.5,437 L851.25,431.7 L852,425 L852.83,424 L853.67,421.8 L854.5,422 L855.25,421.3 L856,420 L856.67,418.8 L857.33,417.7 L858,416 L858.67,417.7 L859.33,421.4 L860,424 L860.83,422.2 L861.67,420.9 L862.5,420 L863.17,421.9 L863.83,423.6 L864.5,425 L865.25,426.4 L866,429 L866.67,426.6 L867.33,424.8 L868,425 L868.67,426.3 L869.33,429.1 L870,430 L870.67,429.6 L871.33,428.1 L872,429 L872.75,430.9 L873.5,434 L874.25,427.4 L875,420 L875.67,419.7 L876.33,418.1 L877,416 L877.83,415.5 L878.67,414.8 L879.5,414 L880.25,414.9 L881,417 L881.9,416.8 L882.8,416.8 L883.7,417 L884.6,418 L885.5,420 L886.17,419.7 L886.83,419.1 L887.5,419 L888.17,421.2 L888.83,424 L889.5,425 L890.25,428 L891,430 L891.9,429.3 L892.8,427.9 L893.7,427 L894.37,428.3 L895.03,431.6 L895.7,434 L896.6,432.3 L897.5,430 L898.33,428.4 L899.17,428.8 L900,427 L900.67,426.1 L901.33,425.9 L902,425 L902.85,426.8 L903.7,429 L904.6,423.6 L905.5,420 L906.25,414.3 L907,405 L907.83,403.3 L908.67,403.6 L909.5,402 L910.25,400.2 L911,399 L911.9,398.5 L912.8,397.2 L913.7,397 L914.6,394.2 L915.5,392 L916.17,390 L916.83,388.1 L917.5,384 L918.17,382.8 L918.83,382.7 L919.5,382 L920.25,383.6 L921,384 L921.67,383 L922.33,383.1 L923,382 L923.67,382.5 L924.33,384.4 L925,385 L925.75,381.3 L926.5,377 L927.25,381.9 L928,385 L928.67,387.2 L929.33,388.2 L930,391 L930.67,389.4 L931.33,386.3 L932,385 L932.85,383 L933.7,380 L934.6,374.8 L935.5,367 L936.25,366.8 L937,366 L937.85,357.5 L938.7,350 L940,341 L940.75,339.3 L941.5,336 L942.25,341.6 L943,347 L943.75,341 L944.5,337 L945.25,340.3 L946,344 L946.67,342.7 L947.33,339.1 L948,337 L948.67,340.1 L949.33,342.7 L950,346 L950.67,344.3 L951.33,344.4 L952,344 L952.85,346.7 L953.7,349 L955,355 L955.67,353.1 L956.33,350.9 L957,349 L957.85,343.5 L958.7,341 L959.6,339.8 L960.5,337 L961.17,338.1 L961.83,338.9 L962.5,339 L963.17,339.1 L963.83,337.4 L964.5,337 L965.25,339.1 L966,342 L966.67,343.9 L967.33,346.4 L968,347 L968.67,347.6 L969.33,350.2 L970,352 L970.67,353.8 L971.33,357.1 L972,359 L972.85,355.6 L973.7,350 L974.6,345.3 L975.5,341 L976.25,342.2 L977,345 L977.85,353.5 L978.7,362 L979.6,356.8 L980.5,352 L981.17,351.2 L981.83,352.5 L982.5,352 L983.25,348.6 L984,346 L984.75,351.5 L985.5,356 L986.17,357.1 L986.83,360.7 L987.5,362 L988.17,358.3 L988.83,357.4 L989.5,354 L990.25,350.9 L991,350 L991.67,349.2 L992.33,346.4 L993,345 L993.67,345.9 L994.33,348.8 L995,351 L995.67,348.9 L996.33,345.6 L997,344 L997.85,342.7 L998.7,342 L999.6,339.2 L1000.5,336 L1001.17,337.2 L1001.83,336.7 L1002.5,340 L1003.7,325 L1005,312 L1005.67,310.1 L1006.33,308.9 L1007,307 L1007.85,308.2 L1008.7,309 L1009.6,307.6 L1010.5,305 L1011.17,302.9 L1011.83,303.3 L1012.5,300 L1013.17,302.9 L1013.83,304.9 L1014.5,307 L1015.25,309.7 L1016,311 L1016.67,310 L1017.33,307.7 L1018,306 L1018.75,308.1 L1019.5,311 L1020.25,306.8 L1021,301 L1021.9,301.2 L1022.8,300 L1023.7,301 L1024.6,302.8 L1025.5,306 L1026.17,307.3 L1026.83,308.1 L1027.5,309 L1028.17,308.5 L1028.83,308 L1029.5,307 L1030.25,310.6 L1031,314 L1031.75,318.6 L1032.5,321 L1033.25,323.1 L1034,326 L1034.75,322.7 L1035.5,320 L1036.25,318.2 L1037,316 L1037.85,319.5 L1038.7,322 L1039.6,326 L1040.5,329 L1041.25,326.1 L1042,321 L1042.85,317.7 L1043.7,315 L1044.6,312.8 L1045.5,309 L1046.17,308.6 L1046.83,307.1 L1047.5,307 L1048.17,304.9 L1048.83,304.4 L1049.5,301 L1050.25,300.5 L1051,299 L1051.75,296.7 L1052.5,295 L1053.17,295.1 L1053.83,297.9 L1054.5,300 L1055.25,298.1 L1056,297 L1056.67,298.4 L1057.33,301.1 L1058,301 L1058.67,301.8 L1059.33,301.8 L1060,302 L1060.67,299.7 L1061.33,297.9 L1062,297 L1062.85,295.9 L1063.7,295 L1064.6,291.7 L1065.5,289 L1066.17,290.1 L1066.83,287.4 L1067.5,287 L1068.17,287.9 L1068.83,290.4 L1069.5,291 L1070.25,290.5 L1071,290 L1071.67,288.2 L1072.33,288.8 L1073,287 L1073.75,289.3 L1074.5,292 L1075.25,292.2 L1076,294 L1076.67,294.9 L1077.33,295.6 L1078,296 L1078.67,295.1 L1079.33,295.1 L1080,294 L1080.67,293.2 L1081.33,290.8 L1082,290 L1082.85,290.7 L1083.7,294 L1084.6,293.2 L1085.5,295" fill="none" stroke="#000000" stroke-width="3.4" stroke-linejoin="round" stroke-linecap="round"/>

<!-- axes -->
<line x1="91.5" y1="251" x2="91.5" y2="937" stroke="#222" stroke-width="1.6"/>
<line x1="1111.3" y1="251" x2="1111.3" y2="937" stroke="#444" stroke-width="1.6"/>
<line x1="90.7" y1="936.2" x2="1112" y2="936.2" stroke="#333" stroke-width="1.8"/>

<!-- annotation -->
<line x1="1045.5" y1="689.8" x2="1111.5" y2="689.8" stroke="#000" stroke-width="6" stroke-dasharray="6 6"/>
<circle cx="1075.7" cy="642" r="70" fill="none" stroke="#000" stroke-width="5.8" stroke-dasharray="17.3 5.85" stroke-dashoffset="16" transform="rotate(-90 1075.7 642)"/>

<!-- axis tick labels -->
<g font-size="18" fill="#2a2a2a">
<g text-anchor="end">
<text x="85.5" y="291.5" textLength="33" lengthAdjust="spacingAndGlyphs">100</text>
<text x="85.5" y="420" textLength="22" lengthAdjust="spacingAndGlyphs">80</text>
<text x="85.5" y="549" textLength="22" lengthAdjust="spacingAndGlyphs">60</text>
<text x="85.5" y="677.5" textLength="22" lengthAdjust="spacingAndGlyphs">40</text>
<text x="85.5" y="806" textLength="22" lengthAdjust="spacingAndGlyphs">20</text>
<text x="85.5" y="935" textLength="11" lengthAdjust="spacingAndGlyphs">0</text>
</g>
<text x="1116" y="311" textLength="55" lengthAdjust="spacingAndGlyphs">$100k</text>
<text x="1116" y="528" textLength="44" lengthAdjust="spacingAndGlyphs">$10k</text>
<text x="1116" y="744.5" textLength="33" lengthAdjust="spacingAndGlyphs">$1k</text>
<g text-anchor="middle">
<text x="184.8" y="959" textLength="45" lengthAdjust="spacingAndGlyphs">2016</text>
<text x="369.5" y="959" textLength="45" lengthAdjust="spacingAndGlyphs">2018</text>
<text x="554.2" y="959" textLength="45" lengthAdjust="spacingAndGlyphs">2020</text>
<text x="739" y="959" textLength="45" lengthAdjust="spacingAndGlyphs">2022</text>
<text x="923.6" y="959" textLength="45" lengthAdjust="spacingAndGlyphs">2024</text>
<text x="1108.3" y="959" textLength="45" lengthAdjust="spacingAndGlyphs">2026</text>
</g>
</g>
<!-- axis titles -->
<text transform="translate(35,699) rotate(-90)" font-size="21.5" fill="#2a2a2a" textLength="214" lengthAdjust="spacingAndGlyphs">Everything Indicator</text>
<text transform="translate(1185.8,678) rotate(-90)" font-size="21.5" fill="#2a2a2a" textLength="170" lengthAdjust="spacingAndGlyphs">BTC Price (USD)</text>

<!-- legend -->
<line x1="100" y1="1026" x2="145" y2="1026" stroke="#f7951b" stroke-width="2.6"/>
<text x="153.5" y="1033.5" font-size="20.5" fill="#2a2a2a" textLength="200" lengthAdjust="spacingAndGlyphs">Everything Indicator</text>
<line x1="369.5" y1="1026" x2="413.5" y2="1026" stroke="#000" stroke-width="3"/>
<text x="422.5" y="1033.5" font-size="20.5" fill="#2a2a2a" textLength="91" lengthAdjust="spacingAndGlyphs">BTC Price</text>

<!-- chart headline -->
<g font-size="33.5" font-weight="700" fill="#0b0b0b" stroke="#0b0b0b" stroke-width="0.5" text-anchor="middle">
<text x="526.5" y="154.8" textLength="771" lengthAdjust="spacingAndGlyphs">The Bitcoin Everything Indicator is currently at</text>
<text x="525" y="201.7" textLength="716" lengthAdjust="spacingAndGlyphs">the same level as the last local BTC bottom,</text>
<text x="526.5" y="248.3" textLength="773" lengthAdjust="spacingAndGlyphs">before price bounced over 20% in a few weeks</text>
</g>

<!-- copyright -->
<text x="895" y="1089.3" font-size="20.5" fill="#444" textLength="296.5" lengthAdjust="spacingAndGlyphs">© 2025 Bitcoin Magazine Pro.</text>

<!-- header -->
<rect x="0" y="0" width="1200" height="92.5" fill="#000"/>
<circle cx="52.1" cy="46.2" r="38.4" fill="#f7931a"/>
<g transform="translate(51.8,45.6) rotate(14)" fill="#fff">
<path d="M-15.5,-17 H-5.5 V-23.5 H-1.5 V-17 H2 V-23.5 H6 V-16.7 C12,-15.8 14.6,-12.8 14.6,-9 C14.6,-5.3 12.3,-2.8 9,-1.6 C14,-0.3 17,3 17,7.6 C17,13.2 13,16.4 6,17 V23.5 H2 V17 H-1.5 V23.5 H-5.5 V17 H-15.5 V12 H-10.5 V-12 H-15.5 Z M-2,-11.5 V-4.5 H2.2 C5.2,-4.5 6.6,-6 6.6,-8 C6.6,-10 5.2,-11.5 2.2,-11.5 Z M-2,2.5 V11 H3.2 C6.9,11 8.6,9.2 8.6,6.7 C8.6,4.2 6.9,2.5 3.2,2.5 Z" fill-rule="evenodd"/>
</g>
<g font-size="53" font-weight="700" fill="#fff">
<text x="104.5" y="62.5" textLength="185" lengthAdjust="spacingAndGlyphs">Bitcoin:</text>
<text x="308" y="62.5" textLength="272" lengthAdjust="spacingAndGlyphs">Everything</text>
<text x="597" y="62.5" textLength="222" lengthAdjust="spacingAndGlyphs">Indicator</text>
</g>

<!-- chart of the day badge -->
<rect x="969" y="15" width="211.5" height="61.5" rx="2.5" fill="none" stroke="#fff" stroke-width="2.2"/>
<g>
<rect x="996" y="24" width="1.4" height="46" fill="#3fb777"/>
<rect x="991" y="32" width="11.5" height="25" fill="#35b273"/>
<rect x="1013" y="24" width="1.4" height="46" fill="#f0474f"/>
<rect x="1008" y="48" width="12" height="16.5" fill="#f5484f"/>
<rect x="1029.3" y="24" width="1.4" height="46" fill="#3fb777"/>
<rect x="1024" y="32" width="12" height="25" fill="#35b273"/>
</g>
<text x="1051" y="47" font-size="27" font-weight="700" font-style="italic" fill="#fff" stroke="#fff" stroke-width="0.8" textLength="110" lengthAdjust="spacingAndGlyphs">CHART</text>
<text x="1054" y="70" font-size="16" font-weight="700" font-style="italic" fill="#fff" textLength="103" lengthAdjust="spacingAndGlyphs">OF THE DAY</text>

<!-- footer -->
<rect x="0" y="1102.5" width="1200" height="97.5" fill="#000"/>
<g fill="#fff">
<polygon points="35,1132 70,1148.5 70,1157 35,1141"/>
<polygon points="35,1144.5 70,1161 70,1169.5 35,1153.5"/>
<polygon points="35,1157 70,1173.5 70,1182.5 35,1166"/>
<polygon points="73,1148.5 83,1144 83,1178 73,1182.5"/>
<rect x="77.3" y="1140" width="1.4" height="46"/>
<polygon points="86,1142.5 96,1138 96,1171.5 86,1176"/>
<rect x="90.3" y="1134" width="1.4" height="46"/>
<polygon points="99,1136.5 108.5,1132 108.5,1165.5 99,1170"/>
<rect x="103.1" y="1128" width="1.4" height="46"/>
</g>
<text x="125.3" y="1126.6" font-size="13.8" font-weight="700" fill="#fff" stroke="#fff" stroke-width="0.7" textLength="164.5" lengthAdjust="spacingAndGlyphs">BITCOIN MAGAZINE</text>
<path transform="translate(125.3,1135.9)" d="M0,0 H29 A19.3,18.2 0 0 1 29,36.4 H15.8 V49.1 H0 Z M15.8,11.8 H26 A6.3,6.35 0 0 1 26,24.5 H15.8 Z M53,0 H82 A18.5,17.8 0 0 1 93.9,31.4 L102.9,49.1 H86.3 L78.8,36.4 H68.9 V49.1 H53 Z M68.9,11.8 H79 A6,5.95 0 0 1 79,23.7 H68.9 Z M104.4,24.5 A29.7,26.1 0 1 0 163.8,24.5 A29.7,26.1 0 1 0 104.4,24.5 Z M121.4,24.5 A12.7,13.9 0 1 1 146.8,24.5 A12.7,13.9 0 1 1 121.4,24.5 Z" fill="#fff" fill-rule="evenodd"/>
<text x="283" y="1137" font-size="6.5" fill="#fff">®</text>

<!-- orange pill -->
<g fill="#f8a23c" stroke="#f8a23c" stroke-width="0.55" font-style="italic" font-weight="400" font-size="23.5">
<text x="823" y="1146" transform="rotate(-2 823 1146.5)" textLength="109" lengthAdjust="spacingAndGlyphs">Orange pill</text>
<text x="826" y="1171" transform="rotate(-2 826 1171.5)" textLength="103" lengthAdjust="spacingAndGlyphs">the world!</text>
</g>
<path d="M904.5,1184 Q926,1194 949,1172.5 M936,1174.5 L950,1171.5 L946,1185.5" fill="none" stroke="#f8a23c" stroke-width="2.3" stroke-linecap="round" stroke-linejoin="round"/>

<!-- button -->
<rect x="954" y="1119" width="235" height="59" rx="29.5" fill="url(#btn)"/>
<rect x="1125" y="1119" width="3" height="59" fill="#000"/>
<g fill="#fff" stroke="#fff" stroke-width="0.35" font-weight="700" font-size="18.5" text-anchor="middle">
<text x="1047" y="1144.5" textLength="129" lengthAdjust="spacingAndGlyphs">LIKE &amp; SHARE</text>
<text x="1047" y="1167" textLength="115" lengthAdjust="spacingAndGlyphs">THIS CHART</text>
</g>
<g transform="translate(1154.7,1148.7) rotate(14) scale(0.70)" fill="#fff">
<path d="M-15.5,-17 H-5.5 V-23.5 H-1.5 V-17 H2 V-23.5 H6 V-16.7 C12,-15.8 14.6,-12.8 14.6,-9 C14.6,-5.3 12.3,-2.8 9,-1.6 C14,-0.3 17,3 17,7.6 C17,13.2 13,16.4 6,17 V23.5 H2 V17 H-1.5 V23.5 H-5.5 V17 H-15.5 V12 H-10.5 V-12 H-15.5 Z M-2,-11.5 V-4.5 H2.2 C5.2,-4.5 6.6,-6 6.6,-8 C6.6,-10 5.2,-11.5 2.2,-11.5 Z M-2,2.5 V11 H3.2 C6.9,11 8.6,9.2 8.6,6.7 C8.6,4.2 6.9,2.5 3.2,2.5 Z" fill-rule="evenodd"/>
</g>
</svg>
</body></html>
